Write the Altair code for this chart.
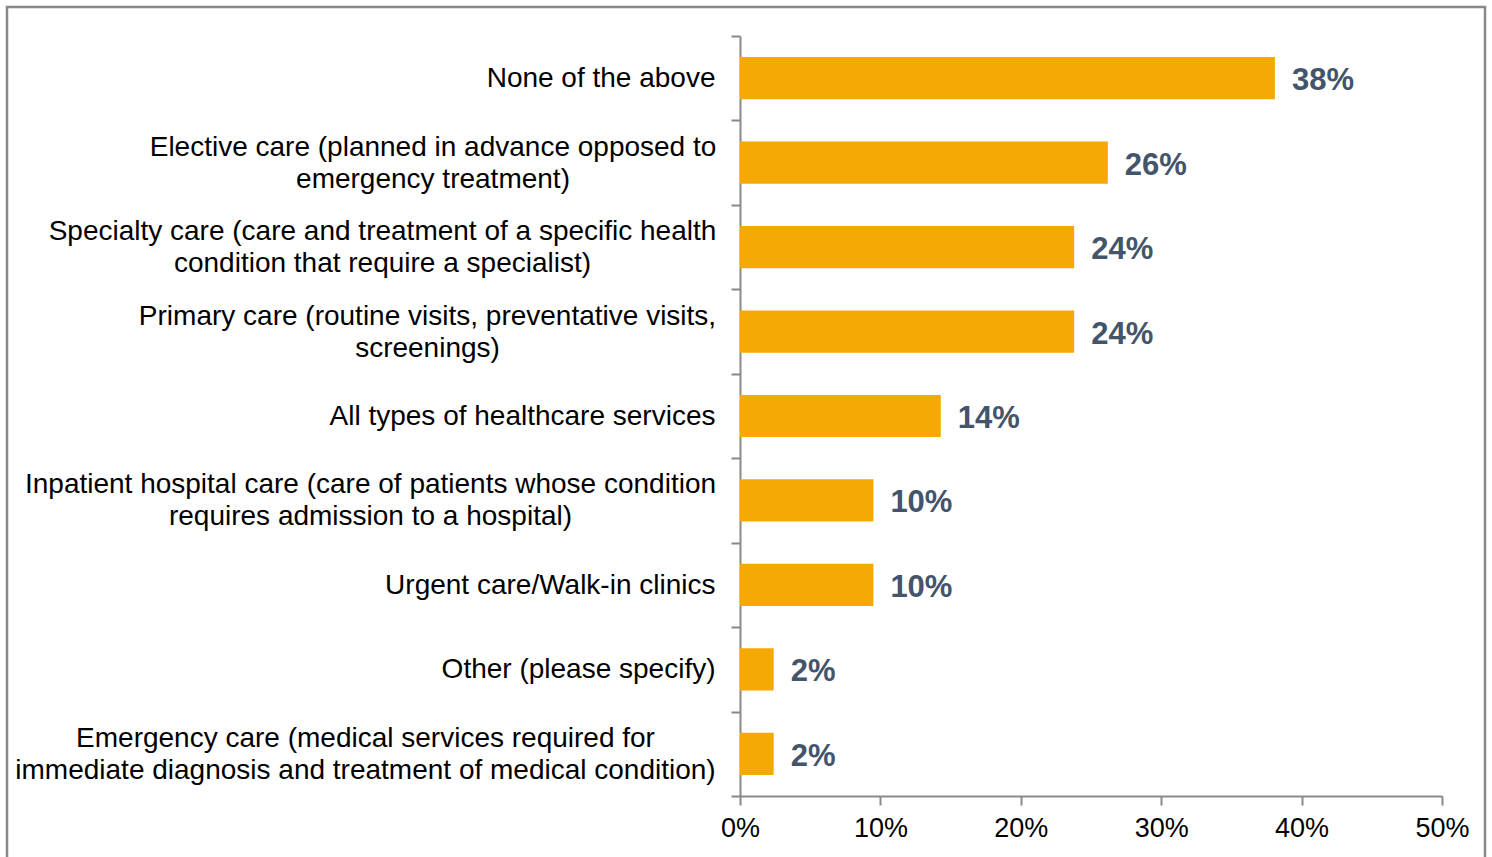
import altair as alt
import pandas as pd

categories = [
    "None of the above",
    "Elective care (planned in advance opposed to|emergency treatment)",
    "Specialty care (care and treatment of a specific health|condition that require a specialist)",
    "Primary care (routine visits, preventative visits,|screenings)",
    "All types of healthcare services",
    "Inpatient hospital care (care of patients whose condition|requires admission to a hospital)",
    "Urgent care/Walk-in clinics",
    "Other (please specify)",
    "Emergency care (medical services required for|immediate diagnosis and treatment of medical condition)",
]
values = [38.1, 26.2, 23.8, 23.8, 14.3, 9.5, 9.5, 2.4, 2.4]
value_labels = ["38%", "26%", "24%", "24%", "14%", "10%", "10%", "2%", "2%"]
x_ticks = [0, 10, 20, 30, 40, 50]

df = pd.DataFrame({"cat": categories, "val": values, "lab": value_labels})

FONT = "Liberation Sans"
BAR = "#F5A905"
LABEL = "#44546A"
GREY = "#898989"

# layout: two-line labels are centred within a right-aligned block;
# approximate rendered width (px) of the widest line of each block
BASE_PAD = 25
block_width = {
    categories[1]: 565,
    categories[2]: 666,
    categories[3]: 576,
    categories[5]: 690,
    categories[8]: 700,
}
pad_conditions = [
    {"test": f"datum.value == '{c}'", "value": BASE_PAD + w / 2}
    for c, w in block_width.items()
]
MULTI = "indexof(datum.value, '|') >= 0"

x_enc = alt.X(
    "val:Q",
    scale=alt.Scale(domain=[0, 50], nice=False),
    axis=alt.Axis(
        title=None,
        values=x_ticks,
        labelExpr="datum.value + '%'",
        labelFont=FONT,
        labelFontSize=27,
        labelColor="#000000",
        labelPadding=10,
        labelFlush=False,
        tickSize=9,
        tickColor=GREY,
        tickWidth=2,
        domainColor=GREY,
        domainWidth=2,
        grid=False,
    ),
)

base = alt.Chart(df)

# bars carry the category labels (no ticks)
bars = base.mark_bar(color=BAR).encode(
    y=alt.Y(
        "cat:N",
        sort=categories,
        scale=alt.Scale(paddingInner=0.5, paddingOuter=0.25),
        axis=alt.Axis(
            title=None,
            orient="left",
            labelExpr="split(datum.value, '|')",
            labelFont=FONT,
            labelFontSize=28,
            labelColor="#000000",
            labelLineHeight=32,
            labelPadding={"condition": pad_conditions, "value": BASE_PAD},
            labelAlign={"condition": {"test": MULTI, "value": "center"}, "value": "right"},
            labelLimit=0,
            labelOffset={"condition": {"test": MULTI, "value": -15}, "value": 1},
            ticks=False,
            domain=False,
        ),
    ),
    x=x_enc,
)

# value labels; their axis draws the axis line and band-boundary ticks
texts = base.mark_text(
    align="left", baseline="middle", dx=17, dy=3,
    font=FONT, fontSize=31, fontWeight="bold", color=LABEL,
).encode(
    y=alt.Y(
        "cat:N",
        sort=categories,
        scale=alt.Scale(paddingInner=0, paddingOuter=0),
        axis=alt.Axis(
            title=None,
            orient="left",
            labels=False,
            tickBand="extent",
            tickSize=9,
            tickColor=GREY,
            tickWidth=2,
            domainColor=GREY,
            domainWidth=2,
        ),
    ),
    x=x_enc,
    text="lab:N",
)

frame = alt.Chart(alt.Data(values=[{"a": 1}])).mark_rect(
    fill=None, stroke=GREY, strokeWidth=2.5
).encode(
    x=alt.value(-733), x2=alt.value(745), y=alt.value(-29), y2=alt.value(830)
)

chart = (
    alt.layer(bars, texts, frame)
    .resolve_scale(y="independent")
    .resolve_axis(y="independent")
    .properties(
        width=702,
        height=760,
        autosize=alt.AutoSizeParams(type="none"),
        padding={"left": 740, "top": 36, "right": 50, "bottom": 61},
        background="white",
    )
    .configure_view(stroke=None)
)

chart.save("out.html", embed_options={"renderer": "svg", "actions": False})
